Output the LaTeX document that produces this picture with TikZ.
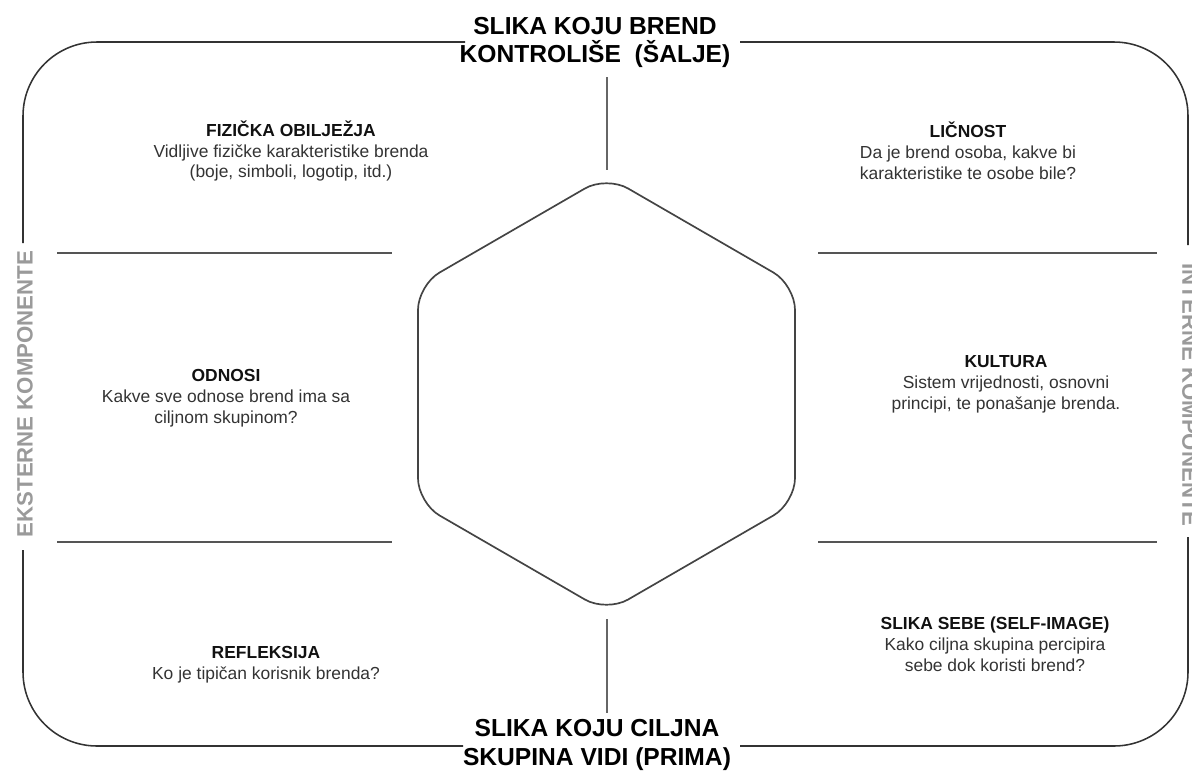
\documentclass[tikz,border=0pt]{standalone}
\usepackage{fontspec}
\setmainfont{Liberation Sans}
\definecolor{framec}{HTML}{333333}
\definecolor{divc}{HTML}{555555}
\definecolor{hexc}{HTML}{444444}
\definecolor{axisc}{HTML}{666666}
\definecolor{bodyc}{HTML}{333333}
\definecolor{headc}{HTML}{111111}
\definecolor{sidec}{HTML}{9A9A9A}
\begin{document}
\begin{tikzpicture}[x=0.025cm,y=-0.025cm,
  frame/.style={draw=framec, line width=1.1pt, rounded corners=1.85cm},
  divider/.style={draw=divc, line width=1.4pt},
  hexline/.style={draw=hexc, line width=1.2pt, rounded corners=0.62cm},
  axisline/.style={draw=axisc, line width=1.5pt},
  blk/.style={align=center, font=\fontsize{12.4}{14.9}\selectfont, text=bodyc, inner sep=0pt},
  ttl/.style={align=center, font=\fontsize{17.5}{20}\selectfont\bfseries, text=black, inner sep=0pt},
  side/.style={font=\fontsize{15.8}{18}\selectfont\bfseries, text=sidec, inner sep=0pt}]
\useasboundingbox (0,0) rectangle (1192,771);

% outer frame (four pieces with gaps for the labels)
\coordinate (ta) at (465,42);  \coordinate (ctl) at (23,42);   \coordinate (la) at (23,243);
\coordinate (lb) at (23,550);  \coordinate (cbl) at (23,746);  \coordinate (ba) at (463,746);
\coordinate (tb) at (740,42);  \coordinate (ctr) at (1188,42); \coordinate (ra) at (1188,245);
\coordinate (rb) at (1188,537);\coordinate (cbr) at (1188,746);\coordinate (bb) at (740,746);
\draw[frame] (ta) -- (ctl) -- (la);
\draw[frame] (lb) -- (cbl) -- (ba);
\draw[frame] (tb) -- (ctr) -- (ra);
\draw[frame] (rb) -- (cbr) -- (bb);

% hexagon
\coordinate (h1) at (606.5,176);
\coordinate (h2) at (795,285);
\coordinate (h3) at (795,503);
\coordinate (h4) at (606.5,612);
\coordinate (h5) at (418,503);
\coordinate (h6) at (418,285);
\draw[hexline] (h1) -- (h2) -- (h3) -- (h4) -- (h5) -- (h6) -- cycle;

% vertical axis pieces
\coordinate (va1) at (607,77);  \coordinate (va2) at (607,170);
\coordinate (vb1) at (607,619); \coordinate (vb2) at (607,713);
\draw[axisline] (va1) -- (va2);
\draw[axisline] (vb1) -- (vb2);

% horizontal dividers
\coordinate (d1a) at (57,253);  \coordinate (d1b) at (392,253);
\coordinate (d2a) at (57,542);  \coordinate (d2b) at (392,542);
\coordinate (d3a) at (818,253); \coordinate (d3b) at (1157,253);
\coordinate (d4a) at (818,542); \coordinate (d4b) at (1157,542);
\draw[divider] (d1a) -- (d1b);
\draw[divider] (d2a) -- (d2b);
\draw[divider] (d3a) -- (d3b);
\draw[divider] (d4a) -- (d4b);

% titles
\node[ttl] (top) at (595,42.5) {SLIKA KOJU BREND\\KONTROLIŠE\ \ (ŠALJE)};
\node[ttl] (bot) at (597,745) {SLIKA KOJU CILJNA\\SKUPINA VIDI (PRIMA)};

% side labels
\node[side, rotate=90] (ext) at (25,394) {EKSTERNE KOMPONENTE};
\node[side, rotate=-90] (int) at (1190,395) {INTERNE KOMPONENTE};

% text blocks
\node[blk] (fiz) at (291,151) {{\color{headc}\bfseries FIZIČKA OBILJEŽJA}\\Vidljive fizičke karakteristike brenda\\(boje, simboli, logotip, itd.)};
\node[blk] (lic) at (968,151) {{\color{headc}\bfseries LIČNOST}\\Da je brend osoba, kakve bi\\karakteristike te osobe bile?};
\node[blk] (odn) at (226,398) {{\color{headc}\bfseries ODNOSI}\\Kakve sve odnose brend ima sa\\ciljnom skupinom?};
\node[blk] (kul) at (1006,384) {{\color{headc}\bfseries KULTURA}\\Sistem vrijednosti, osnovni\\principi, te ponašanje brenda.};
\node[blk] (ref) at (266,665) {{\color{headc}\bfseries REFLEKSIJA}\\Ko je tipičan korisnik brenda?};
\node[blk] (seb) at (995,644) {{\color{headc}\bfseries SLIKA SEBE (SELF-IMAGE)}\\Kako ciljna skupina percipira\\sebe dok koristi brend?};
\end{tikzpicture}
\end{document}
